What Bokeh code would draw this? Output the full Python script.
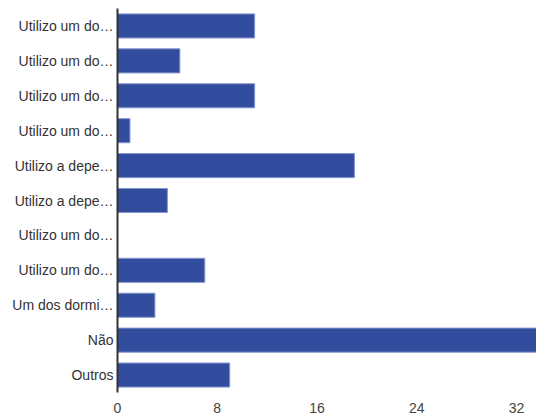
from bokeh.plotting import figure
from bokeh.models import Range1d, FixedTicker, ColumnDataSource
from bokeh.embed import file_html
from bokeh.resources import INLINE

categories = [
    "Utilizo um do\u2026", "Utilizo um do\u2026", "Utilizo um do\u2026", "Utilizo um do\u2026",
    "Utilizo a depe\u2026", "Utilizo a depe\u2026", "Utilizo um do\u2026",
    "Utilizo um do\u2026", "Um dos dormi\u2026", "Não", "Outros",
]
values = [11, 5, 11, 1, 19, 4, 0, 7, 3, 34, 9]
x_ticks = [0, 8, 16, 24, 32]

positions = list(range(len(categories)))
src = ColumnDataSource(dict(pos=positions, val=values))

p = figure(
    width=536, height=415,
    y_range=Range1d(len(categories) - 0.5, -0.5),
    x_range=Range1d(0, 33.6),
    output_backend="svg", toolbar_location=None,
    min_border_left=117, min_border_right=0, min_border_top=8, min_border_bottom=23,
)
p.hbar(y="pos", right="val", left=0, height=0.69, source=src,
       fill_color="#334d9e", line_color="#8796cf", line_width=1)

p.outline_line_color = None
p.grid.visible = False
p.background_fill_color = "white"
p.border_fill_color = "white"

p.xaxis.ticker = FixedTicker(ticks=x_ticks)
p.xaxis.axis_line_color = None
p.xaxis.major_tick_line_color = None
p.xaxis.minor_tick_line_color = None
p.xaxis.major_tick_out = 0
p.xaxis.major_label_standoff = 10
p.xaxis.major_label_text_font = "Liberation Sans"
p.xaxis.major_label_text_font_size = "14px"
p.xaxis.major_label_text_color = "#444444"

p.yaxis.ticker = FixedTicker(ticks=positions)
p.yaxis.major_label_overrides = {i: c for i, c in zip(positions, categories)}
p.yaxis.axis_line_color = "#333333"
p.yaxis.axis_line_width = 2
p.yaxis.major_tick_line_color = None
p.yaxis.minor_tick_line_color = None
p.yaxis.major_tick_out = 0
p.yaxis.major_label_standoff = 4
p.yaxis.major_label_text_font = "Liberation Sans"
p.yaxis.major_label_text_font_size = "14px"
p.yaxis.major_label_text_color = "#333333"

open("out.html", "w").write(file_html(p, INLINE))
